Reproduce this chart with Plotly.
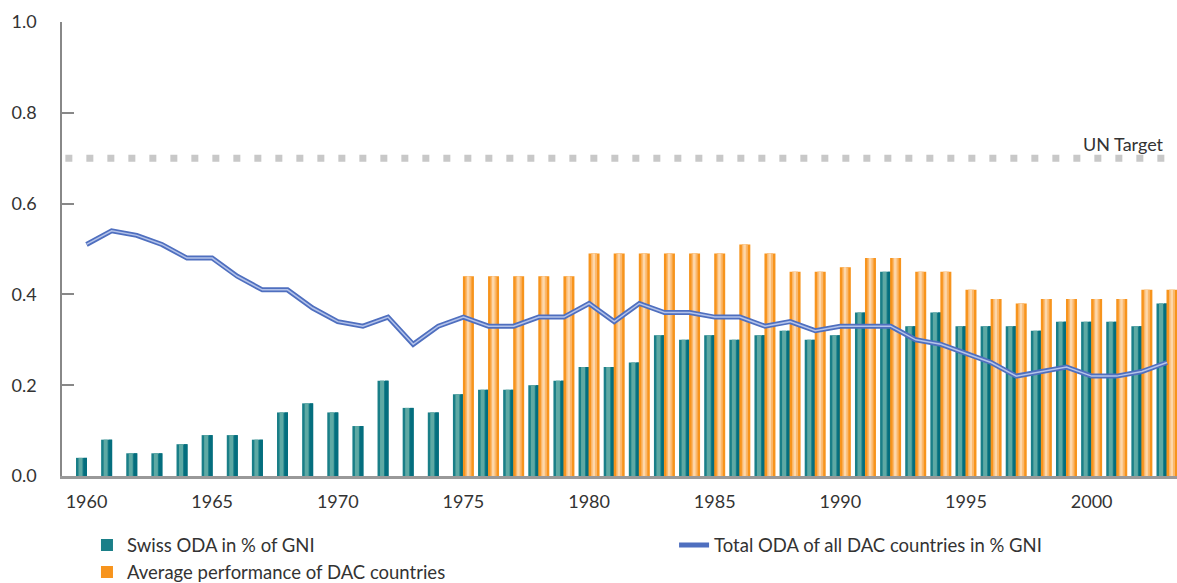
import plotly.graph_objects as go

years = list(range(1960, 2004))
swiss_oda = [0.04, 0.08, 0.05, 0.05, 0.07, 0.09, 0.09, 0.08, 0.14, 0.16,
             0.14, 0.11, 0.21, 0.15, 0.14, 0.18, 0.19, 0.19, 0.20, 0.21,
             0.24, 0.24, 0.25, 0.31, 0.30, 0.31, 0.30, 0.31, 0.32, 0.30,
             0.31, 0.36, 0.45, 0.33, 0.36, 0.33, 0.33, 0.33, 0.32, 0.34,
             0.34, 0.34, 0.33, 0.38]
dac_years = list(range(1975, 2004))
dac_average = [0.44, 0.44, 0.44, 0.44, 0.44, 0.49, 0.49, 0.49, 0.49, 0.49,
               0.49, 0.51, 0.49, 0.45, 0.45, 0.46, 0.48, 0.48, 0.45, 0.45,
               0.41, 0.39, 0.38, 0.39, 0.39, 0.39, 0.39, 0.41, 0.41]
dac_total = [0.51, 0.54, 0.53, 0.51, 0.48, 0.48, 0.44, 0.41, 0.41, 0.37,
             0.34, 0.33, 0.35, 0.29, 0.33, 0.35, 0.33, 0.33, 0.35, 0.35,
             0.38, 0.34, 0.38, 0.36, 0.36, 0.35, 0.35, 0.33, 0.34, 0.32,
             0.33, 0.33, 0.33, 0.30, 0.29, 0.27, 0.25, 0.22, 0.23, 0.24,
             0.22, 0.22, 0.23, 0.25]
un_target = 0.7
tick_years = [1960, 1965, 1970, 1975, 1980, 1985, 1990, 1995, 2000]
y_ticks = [0.0, 0.2, 0.4, 0.6, 0.8, 1.0]

FONT = "Lato"
TXT = "#333333"
px = 1 / 25.13  # one pixel in year units

fig = go.Figure()

# Swiss ODA bars (cylinder look via stacked stripes)
fig.add_trace(go.Bar(x=years, y=swiss_oda, offset=-10.5 * px, width=11 * px,
                     marker=dict(color="#1a7f88", line=dict(width=0)),
                     name="Swiss ODA in % of GNI", legend="legend", hoverinfo="skip"))
fig.add_trace(go.Bar(x=years, y=swiss_oda, offset=-8 * px, width=4 * px,
                     marker=dict(color="#5ea9a4", line=dict(width=0)),
                     showlegend=False, hoverinfo="skip"))
fig.add_trace(go.Bar(x=years, y=swiss_oda, offset=-3 * px, width=3.5 * px,
                     marker=dict(color="#046e7e", line=dict(width=0)),
                     showlegend=False, hoverinfo="skip"))

# DAC average bars
fig.add_trace(go.Bar(x=dac_years, y=dac_average, offset=-0.5 * px, width=11 * px,
                     marker=dict(color="#f7941d", line=dict(width=0)),
                     name="Average performance of DAC countries", legend="legend",
                     hoverinfo="skip"))
fig.add_trace(go.Bar(x=dac_years, y=dac_average, offset=2 * px, width=6 * px,
                     marker=dict(color="#fbb86c", line=dict(width=0)),
                     showlegend=False, hoverinfo="skip"))
fig.add_trace(go.Bar(x=dac_years, y=dac_average, offset=3.5 * px, width=2.5 * px,
                     marker=dict(color="#fdd7aa", line=dict(width=0)),
                     showlegend=False, hoverinfo="skip"))

# Total DAC line (double line look)
fig.add_trace(go.Scatter(x=years, y=dac_total, mode="lines",
                         line=dict(color="#4f6fbf", width=5),
                         name="Total ODA of all DAC countries in % GNI", legend="legend2",
                         hoverinfo="skip"))
fig.add_trace(go.Scatter(x=years, y=dac_total, mode="lines",
                         line=dict(color="#b4c3ea", width=1.5),
                         showlegend=False, hoverinfo="skip"))

# UN target
fig.add_shape(type="line", xref="paper", x0=0.003, x1=1, yref="y", y0=un_target, y1=un_target,
              line=dict(color="#c8c8c8", width=7, dash="7px,14px"), layer="below")
fig.add_annotation(text="UN Target", xref="paper", x=0.9905, xanchor="right",
                   yref="y", y=un_target, yanchor="bottom", yshift=1,
                   showarrow=False, font=dict(family=FONT, size=18, color=TXT))

fig.update_layout(
    width=1177, height=583,
    margin=dict(l=62, r=0, t=22, b=107, autoexpand=False),
    plot_bgcolor="white", paper_bgcolor="white",
    barmode="overlay",
    font=dict(family=FONT, size=18, color=TXT),
    xaxis=dict(range=[1960 - 24.5 * px, 2003 + 10 * px], tickvals=tick_years,
               ticktext=[str(t) for t in tick_years], showgrid=False, zeroline=False,
               showline=True, linecolor="#999999", linewidth=2.5, ticks="",
               ticklabelstandoff=8, tickfont=dict(size=18, color=TXT), automargin=False),
    yaxis=dict(range=[0, 1], tickvals=y_ticks, ticktext=[f"{v:.1f}" for v in y_ticks],
               showgrid=False, zeroline=False, showline=True, linecolor="#888888",
               linewidth=1.5, ticks="inside", ticklen=12, tickcolor="#888888",
               tickwidth=1.5, ticklabelstandoff=20, tickfont=dict(size=18, color=TXT),
               automargin=False),
    legend=dict(xref="container", yref="container", x=0.0739, xanchor="left",
                y=0.097, yanchor="top",
                orientation="v", font=dict(size=18.5, color=TXT), tracegroupgap=0,
                bgcolor="rgba(0,0,0,0)", itemwidth=30),
    legend2=dict(xref="container", yref="container", x=0.5727, xanchor="left",
                 y=0.097, yanchor="top",
                 orientation="v", font=dict(size=18.5, color=TXT),
                 bgcolor="rgba(0,0,0,0)", itemwidth=30),
)

fig.write_html("out.html", post_script="document.body.style.margin='0';",
               config={"displayModeBar": False})
